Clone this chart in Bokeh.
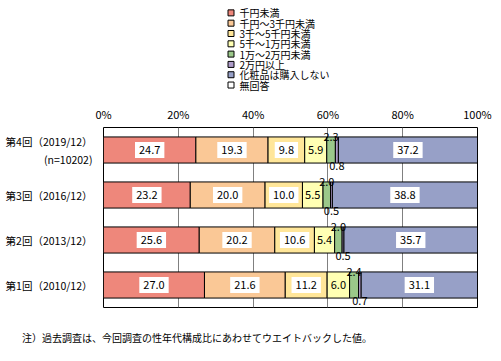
from bokeh.plotting import figure
from bokeh.models import ColumnDataSource, FixedTicker, Div
from bokeh.layouts import column
from bokeh.core.properties import value
from bokeh.embed import file_html
from bokeh.resources import INLINE

# ---- data ----
rounds = ["第1回（2010/12）", "第2回（2013/12）", "第3回（2016/12）", "第4回（2019/12）"]
round_pos = [1, 2, 3, 4]
sample_note = "(n=10202)"
series_names = ["千円未満", "千円～3千円未満", "3千～5千円未満", "5千～1万円未満",
                "1万～2万円未満", "2万円以上", "化粧品は購入しない", "無回答"]
under_1k = [27.0, 25.6, 23.2, 24.7]
k1_3k = [21.6, 20.2, 20.0, 19.3]
k3_5k = [11.2, 10.6, 10.0, 9.8]
k5_10k = [6.0, 5.4, 5.5, 5.9]
k10_20k = [2.4, 2.0, 2.0, 2.3]
over_20k = [0.7, 0.5, 0.5, 0.8]
no_purchase = [31.1, 35.7, 38.8, 37.2]
no_answer = [0.0, 0.0, 0.0, 0.0]
series_values = [under_1k, k1_3k, k3_5k, k5_10k, k10_20k, over_20k, no_purchase, no_answer]
x_ticks = [0, 20, 40, 60, 80, 100]
x_tick_labels = ["0%", "20%", "40%", "60%", "80%", "100%"]
footnote = "注）過去調査は、今回調査の性年代構成比にあわせてウエイトバックした値。"

colors = ["#EE877B", "#FAC896", "#FFE699", "#FFFFB3", "#9BC88A", "#AE9CC8", "#97A0C7", "#FFFFFF"]
FONT = "Noto Sans CJK JP"
W = 495
FL, FR = 103, 477   # frame left / right on the page

# ---- legend (frame aligned with the chart's; y counts legend rows from the bottom) ----
n = len(series_names)
lg = figure(width=W, height=100, x_range=(FL, FR), y_range=(-1.5, 8.2),
            output_backend="svg", toolbar_location=None,
            min_border_left=FL, min_border_right=W - FR, min_border_top=0, min_border_bottom=0)
lg.axis.visible = False
lg.grid.grid_line_color = None
lg.outline_line_color = None
lg_y = [n - 1 - i for i in range(n)]
lg.rect(x=[230.5] * n, y=lg_y, width=6, height=6, height_units="screen",
        fill_color=colors, line_color="black", line_width=1)
lg.text(x=[239] * n, y=lg_y, text=series_names, text_align="left", text_baseline="middle",
        text_font=value(FONT), text_font_size="10px", text_color="black")

# ---- main chart ----
p = figure(width=W, height=222, x_range=(0, 100), y_range=(0.5, 4.5),
           output_backend="svg", toolbar_location=None, x_axis_location="above",
           y_axis_location="left", min_border_left=FL, min_border_right=W - FR,
           min_border_top=27, min_border_bottom=15)
p.outline_line_color = "black"
p.outline_line_width = 1
p.background_fill_color = "white"
p.border_fill_color = "white"

ax = p.xaxis[0]
ax.ticker = FixedTicker(ticks=x_ticks)
ax.major_label_overrides = {t: l for t, l in zip(x_ticks, x_tick_labels)}
ax.major_tick_in = 0
ax.major_tick_out = 0
ax.minor_tick_in = 0
ax.minor_tick_out = 0
ax.axis_line_color = None
ax.major_label_text_font = FONT
ax.major_label_text_font_size = "11px"
ax.major_label_text_color = "black"
ax.major_label_standoff = 6

ay = p.yaxis[0]
ay.ticker = FixedTicker(ticks=round_pos)
overrides = {pos: name for name, pos in zip(rounds, round_pos)}
overrides[4] = rounds[3] + "\n" + "\u3000\u2002" + sample_note
ay.major_label_overrides = overrides
ay.major_tick_in = 0
ay.major_tick_out = 0
ay.minor_tick_in = 0
ay.minor_tick_out = 0
ay.axis_line_color = None
ay.major_label_text_font = FONT
ay.major_label_text_font_size = "10.5px"
ay.major_label_text_color = "black"
ay.major_label_standoff = 11

p.xgrid.ticker = FixedTicker(ticks=x_ticks)
p.xgrid.grid_line_color = "#808080"
p.xgrid.grid_line_width = 1
p.ygrid.grid_line_color = None

bar_h = 0.58
left = [0.0] * 4
segs = []
for name, vals, col in zip(series_names, series_values, colors):
    right = [l + v for l, v in zip(left, vals)]
    src = ColumnDataSource(dict(y=round_pos, left=left, right=right))
    p.hbar(y="y", left="left", right="right", height=bar_h, source=src,
           fill_color=col, line_color="black", line_width=1)
    segs.append((left[:], right[:], vals))
    left = right

boxed_x, boxed_y, boxed_t = [], [], []
plain_x, plain_y, plain_t = [], [], []
above_x, above_y, above_t = [], [], []
below_x, below_y, below_t = [], [], []
for idx, (lft, rgt, vals) in enumerate(segs):
    for i in range(4):
        v = vals[i]
        if v <= 0:
            continue
        cx = (lft[i] + rgt[i]) / 2
        if idx in (0, 1, 2, 6):
            boxed_x.append(cx); boxed_y.append(round_pos[i]); boxed_t.append(f"{v:.1f}")
        elif idx == 3:
            plain_x.append(cx); plain_y.append(round_pos[i]); plain_t.append(f"{v:.1f}")
        elif idx == 4:
            above_x.append(cx); above_y.append(round_pos[i] + bar_h / 2); above_t.append(f"{v:.1f}")
        elif idx == 5:
            below_x.append(cx); below_y.append(round_pos[i] - bar_h / 2); below_t.append(f"{v:.1f}")

p.text(x=boxed_x, y=boxed_y, text=boxed_t, text_align="center", text_baseline="middle",
       text_font=value(FONT), text_font_size="11px", text_color="black",
       background_fill_color="white", padding=4)
p.text(x=plain_x, y=plain_y, text=plain_t, text_align="center", text_baseline="middle",
       text_font=value(FONT), text_font_size="11px", text_color="black")
p.text(x=above_x, y=above_y, text=above_t, text_align="center", text_baseline="alphabetic",
       text_font=value(FONT), text_font_size="11px", text_color="black")
p.text(x=below_x, y=below_y, text=below_t, text_align="center", text_baseline="top",
       text_font=value(FONT), text_font_size="11px", text_color="black", y_offset=-1)

# ---- footnote ----
nt = Div(text=footnote, width=W, height=23,
         styles={"font-family": FONT, "font-size": "10px", "color": "black",
                 "padding-left": "17px", "line-height": "22px", "white-space": "nowrap"})

layout = column(lg, p, nt, spacing=0)
open("out.html", "w").write(file_html(layout, INLINE))
